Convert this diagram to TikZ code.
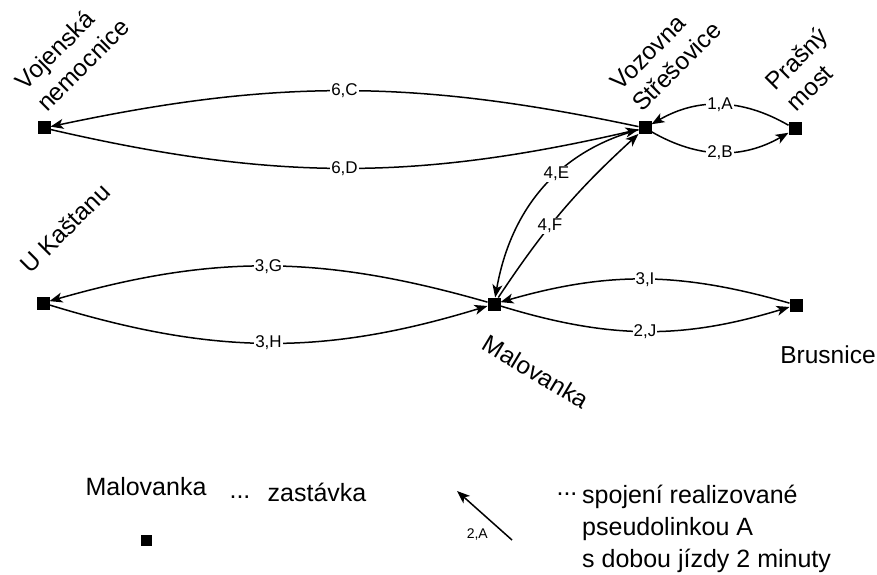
\documentclass[tikz,border=0pt]{standalone}
\usepackage{fontspec}
\setmainfont{Liberation Sans}
\usetikzlibrary{arrows.meta}
\begin{document}
\begin{tikzpicture}[x=1pt,y=1pt,
  stop/.style={fill=black,minimum size=13pt,inner sep=0pt,outer sep=0pt},
  sname/.style={font=\fontsize{24.5}{30}\selectfont,align=left,inner sep=0pt},
  tip/.style={-{Stealth[length=13pt,width=10pt,inset=3.5pt]}},
  conn/.style={line width=1.5pt,tip},
  elab/.style={font=\fontsize{17}{17}\selectfont,fill=white,inner sep=1pt},
  legtext/.style={font=\fontsize{25}{32}\selectfont,align=left,inner sep=0pt}]
\useasboundingbox (0,0) rectangle (877,574);
% stops
\node[stop] (VN) at (44,446) {};
\node[stop] (VS) at (645,446) {};
\node[stop] (PM) at (795,445) {};
\node[stop] (UK) at (43,271) {};
\node[stop] (MA) at (494,270) {};
\node[stop] (BR) at (796,269) {};
% stop names
\node[sname,rotate=45] (lVN) at (72,520) {Vojenská\\nemocnice};
\node[sname,rotate=45] (lVS) at (666,518) {Vozovna\\Střešovice};
\node[sname,rotate=45] (lPM) at (807,505) {Prašný\\most};
\node[sname,rotate=45] (lUK) at (65,346) {U Kaštanu};
\node[sname,rotate=-31] (lMA) at (536,202) {Malovanka};
\node[sname] (lBR) at (828,219) {Brusnice};
% connections
\draw[conn] (VS) to[out=168,in=12] node[elab]{6,C} (VN);
\draw[conn] (VN) to[out=-13,in=-167] node[elab]{6,D} (VS);
\draw[conn] (PM) to[out=150,in=30] node[elab]{1,A} (VS);
\draw[conn] (VS) to[out=-30,in=-150] node[elab]{2,B} (PM);
\draw[conn] (VS) to[out=195,in=80] node[elab,pos=0.4]{4,E} (MA);
\draw[conn] (MA) to[bend left=7] node[elab,pos=0.4]{4,F} (VS);
\draw[conn] (MA) to[out=164,in=16] node[elab]{3,G} (UK);
\draw[conn] (UK) to[out=-17,in=-163] node[elab]{3,H} (MA);
\draw[conn] (BR) to[out=164,in=16] node[elab]{3,I} (MA);
\draw[conn] (MA) to[out=-17,in=-163] node[elab]{2,J} (BR);
% legend
\node[legtext] (lgMA) at (146,87) {Malovanka};
\node[legtext] (lgdots1) at (240,77) {...};
\node[legtext] (lgzast) at (317,82) {zastávka};
\node[stop,minimum size=11pt] (lgstop) at (146,34) {};
\coordinate (lgA) at (512,34);
\coordinate (lgB) at (457,83);
\draw[line width=1.5pt,tip] (lgA) -- (lgB);
\node[font=\fontsize{14}{14}\selectfont,fill=white,inner sep=1pt,anchor=east] (lglab) at (489,39) {2,A};
\node[legtext] (lgdots2) at (567,80) {...};
\node[legtext,anchor=west] (lgdesc) at (582,45) {spojení realizované\\pseudolinkou A\\s dobou jízdy 2 minuty};
\end{tikzpicture}
\end{document}
